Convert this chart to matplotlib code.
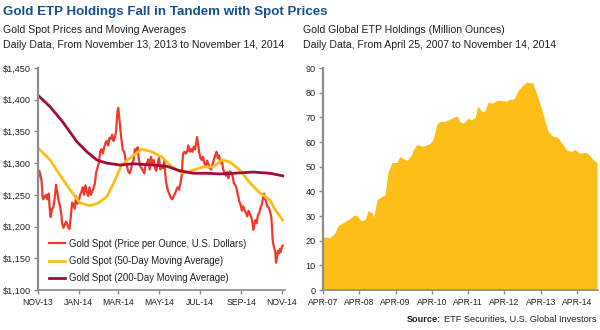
import matplotlib
matplotlib.use('Agg')
import matplotlib.pyplot as plt

plt.rcParams['font.family'] = ['Liberation Sans', 'DejaVu Sans']

# ---- left chart data (days since Nov 13, 2013) ----
spot_day = [0, 1, 2, 5, 6, 7, 8, 12, 14, 16, 18, 19, 21, 23, 25, 27, 28, 29, 31, 33,
            35, 36, 38, 40, 42, 45, 47, 49, 51, 53, 55, 57, 59, 61, 63, 65, 67, 69, 71, 73,
            75, 77, 79, 81, 83, 85, 87, 89, 91, 93, 95, 97, 99, 101, 103, 105, 107, 109, 111, 113,
            115, 117, 118, 119, 120, 121, 123, 125, 127, 129, 131, 133, 135, 137, 139, 141, 143, 145, 147, 149,
            151, 153, 155, 157, 159, 161, 163, 165, 167, 169, 171, 173, 175, 177, 179, 181, 183, 185, 187, 189,
            191, 193, 195, 197, 199, 201, 203, 205, 207, 209, 211, 213, 215, 216, 217, 219, 221, 223, 225, 227,
            229, 231, 233, 235, 237, 238, 239, 241, 243, 245, 247, 249, 251, 253, 255, 257, 259, 261, 263, 265,
            267, 269, 271, 273, 275, 277, 279, 281, 283, 285, 287, 289, 291, 293, 295, 297, 299, 301, 303, 305,
            307, 309, 311, 313, 315, 317, 319, 321, 322, 323, 325, 327, 329, 331, 333, 335, 337, 338, 339, 341,
            343, 345, 347, 349, 350, 351, 352, 353, 355, 356, 357, 359, 361, 362, 363, 365, 366]
spot_price = [1272, 1287, 1288, 1275, 1262, 1245, 1243, 1250, 1243, 1252, 1222, 1215, 1228, 1230, 1245, 1266, 1258, 1254, 1240, 1232,
              1218, 1205, 1198, 1203, 1208, 1200, 1196, 1215, 1238, 1235, 1228, 1248, 1236, 1240, 1250, 1255, 1262, 1250, 1265, 1255,
              1248, 1262, 1250, 1255, 1260, 1268, 1285, 1293, 1300, 1318, 1322, 1315, 1325, 1332, 1335, 1328, 1340, 1338, 1345, 1335,
              1340, 1352, 1370, 1382, 1387, 1378, 1355, 1336, 1320, 1318, 1305, 1295, 1287, 1284, 1290, 1300, 1305, 1322, 1318, 1325,
              1305, 1295, 1292, 1288, 1284, 1298, 1300, 1306, 1290, 1310, 1298, 1305, 1292, 1288, 1300, 1308, 1290, 1296, 1292, 1304,
              1275, 1262, 1255, 1250, 1245, 1243, 1248, 1252, 1258, 1262, 1258, 1268, 1280, 1300, 1315, 1318, 1315, 1318, 1328, 1318,
              1322, 1318, 1326, 1322, 1335, 1341, 1333, 1318, 1308, 1305, 1310, 1300, 1295, 1304, 1298, 1292, 1290, 1298, 1305, 1312,
              1318, 1308, 1312, 1300, 1305, 1290, 1285, 1280, 1286, 1276, 1287, 1285, 1280, 1268, 1266, 1260, 1250, 1240, 1235, 1225,
              1232, 1226, 1222, 1216, 1225, 1220, 1215, 1205, 1195, 1200, 1210, 1205, 1218, 1222, 1230, 1235, 1248, 1252, 1245, 1240,
              1232, 1230, 1225, 1215, 1200, 1180, 1172, 1168, 1160, 1143, 1148, 1162, 1158, 1165, 1160, 1168, 1170]

ma50_day = [0, 18, 33, 48, 63, 78, 90, 103, 115, 125, 140, 155, 170, 185, 200, 217, 232, 247, 262, 275, 287, 302, 317, 332, 347, 352, 366]
ma50_val = [1324, 1305, 1281, 1258, 1237, 1233, 1237, 1247, 1273, 1297, 1310, 1322, 1318, 1310, 1294, 1284, 1289, 1294, 1294, 1305, 1302, 1289, 1269, 1253, 1242, 1231, 1210]

ma200_day = [0, 18, 37, 58, 73, 88, 103, 123, 142, 172, 193, 212, 232, 253, 272, 292, 322, 347, 366]
ma200_val = [1407, 1389, 1365, 1334, 1318, 1305, 1300, 1297, 1299, 1297, 1295, 1288, 1284, 1284, 1283, 1284, 1286, 1284, 1280]

spot_ticks = [0, 61, 120, 181, 242, 304, 365]
spot_tick_labels = ['NOV-13', 'JAN-14', 'MAR-14', 'MAY-14', 'JUL-14', 'SEP-14', 'NOV-14']
price_ticks = [1100, 1150, 1200, 1250, 1300, 1350, 1400, 1450]

# ---- right chart data (years since Apr 25, 2007) ----
etp_year = [0, 0.19, 0.33, 0.41, 0.55, 0.74, 0.88, 0.96, 1.05, 1.16, 1.24, 1.35, 1.40, 1.49, 1.57, 1.71, 1.79, 1.90,
            2.04, 2.12, 2.26, 2.31, 2.45, 2.48, 2.59, 2.75, 2.95, 3.03, 3.14, 3.22, 3.36, 3.55, 3.69, 3.77, 3.86,
            4.0, 4.1, 4.19, 4.27, 4.37, 4.46, 4.55, 4.65, 4.82, 5.06, 5.15, 5.26, 5.37, 5.48, 5.62, 5.79, 5.87,
            5.92, 6.03, 6.12, 6.20, 6.34, 6.47, 6.61, 6.72, 6.86, 6.94, 7.08, 7.22, 7.30, 7.44, 7.55]
etp_holdings = [21.6, 21.2, 23.2, 26.0, 27.3, 28.9, 30.5, 29.7, 28.1, 28.5, 32.2, 31.3, 29.7, 36.6, 37.4, 38.7, 47.6, 51.7,
                51.7, 54.1, 52.9, 52.5, 55.0, 56.6, 59.0, 58.2, 59.4, 61.0, 67.2, 68.4, 68.4, 69.6, 70.6, 68.4, 67.6,
                69.6, 69.0, 70.0, 74.5, 72.5, 72.5, 76.1, 75.7, 77.0, 76.6, 77.4, 77.4, 80.6, 82.7, 84.3, 83.9, 80.2,
                78.2, 73.3, 68.4, 64.4, 62.3, 61.9, 59.0, 56.6, 56.2, 57.0, 55.4, 55.8, 55.4, 52.9, 51.7]
etp_ticks = [0, 1, 2, 3, 4, 5, 6, 7]
etp_tick_labels = ['APR-07', 'APR-08', 'APR-09', 'APR-10', 'APR-11', 'APR-12', 'APR-13', 'APR-14']

RED = '#EE3A2A'
GOLD = '#FDBE18'
MAROON = '#A30B3E'
AXIS = '#8C8C8C'
TXT = '#222222'

fig = plt.figure(figsize=(6, 3.3), dpi=100)


def style_axes(ax):
    for s in ['top', 'right']:
        ax.spines[s].set_visible(False)
    ax.spines['left'].set_color(AXIS)
    ax.spines['bottom'].set_color(AXIS)
    ax.spines['left'].set_linewidth(1.6)
    ax.spines['bottom'].set_linewidth(1.2)
    ax.tick_params(colors=AXIS, labelcolor=TXT, labelsize=6.6, length=3, width=1, pad=2)
    ax.tick_params(axis='x', labelsize=6.2, pad=3)


# left chart
ax1 = fig.add_axes([38 / 600, 1 - 290 / 330, 247 / 600, 222 / 330])
ax1.plot(spot_day, spot_price, color=RED, lw=1.6, label='Gold Spot (Price per Ounce, U.S. Dollars)')
ax1.plot(ma50_day, ma50_val, color=GOLD, lw=2.0, label='Gold Spot (50-Day Moving Average)')
ax1.plot(ma200_day, ma200_val, color=MAROON, lw=2.0, label='Gold Spot (200-Day Moving Average)')
ax1.set_xlim(0, 369.5)
ax1.set_ylim(1100, 1450)
ax1.set_yticks(price_ticks)
ax1.set_yticklabels(['${:,}'.format(v) for v in price_ticks])
ax1.set_xticks(spot_ticks)
ax1.set_xticklabels(spot_tick_labels)
style_axes(ax1)
ax1.legend(loc='lower left', bbox_to_anchor=(0.01, -0.008), frameon=False, fontsize=6.9,
           handlelength=1.7, handletextpad=0.35, labelspacing=0.75, labelcolor=TXT)

# right chart
ax2 = fig.add_axes([323 / 600, 1 - 290 / 330, 275 / 600, 222 / 330])
ax2.fill_between(etp_year, etp_holdings, 0, color=GOLD, lw=0)
ax2.set_xlim(0, 7.58)
ax2.set_ylim(0, 90)
ax2.set_yticks(range(0, 91, 10))
ax2.set_xticks(etp_ticks)
ax2.set_xticklabels(etp_tick_labels)
style_axes(ax2)

# titles
fig.text(3 / 600, 1 - 12 / 330, 'Gold ETP Holdings Fall in Tandem with Spot Prices', fontsize=9.6,
         fontweight='bold', color='#17508F', va='center', ha='left')
fig.text(3 / 600, 1 - 30 / 330, 'Gold Spot Prices and Moving Averages', fontsize=7.6, color=TXT, va='center')
fig.text(3 / 600, 1 - 45 / 330, 'Daily Data, From November 13, 2013 to November 14, 2014', fontsize=7.6,
         color=TXT, va='center')
fig.text(303 / 600, 1 - 30 / 330, 'Gold Global ETP Holdings (Million Ounces)', fontsize=7.6, color=TXT, va='center')
fig.text(303 / 600, 1 - 45 / 330, 'Daily Data, From April 25, 2007 to November 14, 2014', fontsize=7.6,
         color=TXT, va='center')

src = fig.text(596 / 600, 1 - 319 / 330, 'ETF Securities, U.S. Global Investors', fontsize=6.6,
               color=TXT, va='center', ha='right')
fig.canvas.draw()
bb = src.get_window_extent().transformed(fig.transFigure.inverted())
fig.text(bb.x0 - 0.004, 1 - 319 / 330, 'Source:', fontsize=6.6, fontweight='bold', color=TXT,
         va='center', ha='right')

plt.savefig('out.png', dpi=100)
